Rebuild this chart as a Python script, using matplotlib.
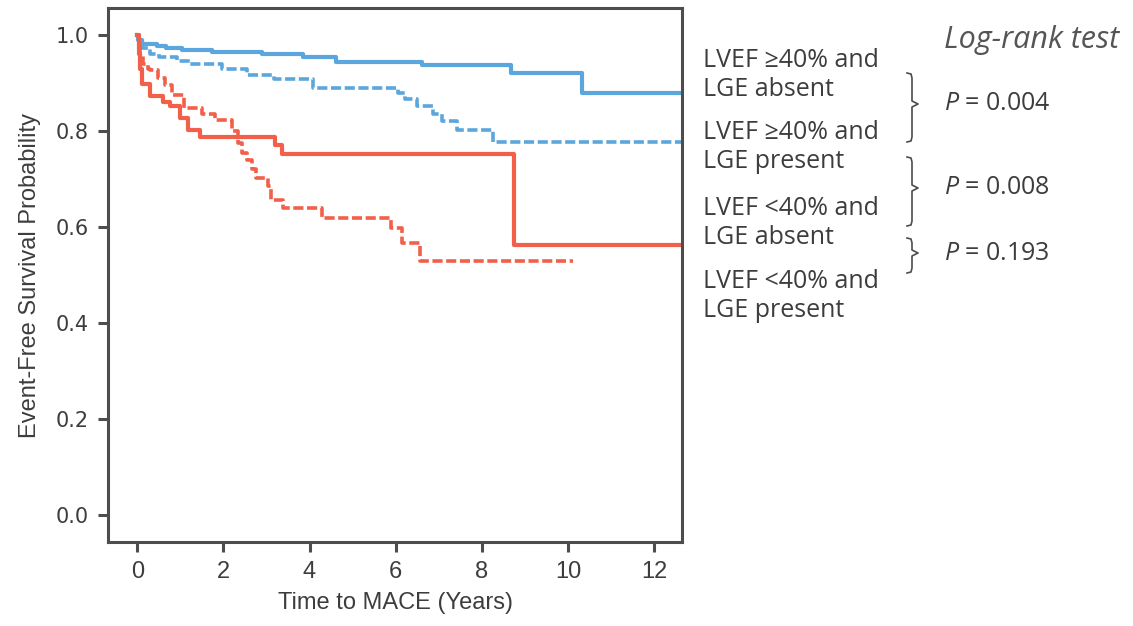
import numpy as np
import matplotlib
matplotlib.use('Agg')
import matplotlib.pyplot as plt

# step times (years) and survival values
t_pres_absent = [0, 0.02, 0.11, 0.34, 0.46, 0.67, 1.04, 1.73, 2.89, 3.85, 4.62, 6.61, 8.69, 10.32, 12.65]
s_pres_absent = [1.0, 0.99, 0.982, 0.98, 0.977, 0.973, 0.969, 0.965, 0.96, 0.954, 0.944, 0.9375, 0.92, 0.88, 0.88]

t_pres_present = [0, 0.05, 0.11, 0.30, 0.51, 0.93, 1.23, 1.97, 2.55, 3.18, 4.08, 6.06, 6.22, 6.50, 6.87,
                  7.08, 7.42, 8.26, 12.65]
s_pres_present = [1.0, 0.98, 0.972, 0.961, 0.955, 0.946, 0.94, 0.929, 0.917, 0.908, 0.89, 0.88, 0.866, 0.851,
                  0.835, 0.821, 0.801, 0.777, 0.777]

t_red_absent = [0, 0.04, 0.07, 0.10, 0.30, 0.60, 0.77, 1.00, 1.18, 1.46, 3.20, 3.36, 8.76, 12.65]
s_red_absent = [1.0, 0.96, 0.93, 0.897, 0.873, 0.861, 0.851, 0.826, 0.802, 0.787, 0.771, 0.751, 0.5625, 0.5625]

t_red_present = [0, 0.03, 0.06, 0.14, 0.26, 0.30, 0.49, 0.65, 0.81, 1.09, 1.51, 1.81, 2.20, 2.34, 2.44,
                 2.55, 2.67, 2.76, 3.04, 3.11, 3.39, 4.29, 5.89, 6.15, 6.57, 10.12]
s_red_present = [1.0, 0.98, 0.96, 0.94, 0.93, 0.927, 0.91, 0.895, 0.875, 0.848, 0.836, 0.823, 0.80, 0.775, 0.755,
                 0.74, 0.72, 0.702, 0.685, 0.656, 0.639, 0.619, 0.597, 0.566, 0.53, 0.53]

group_labels = ['LVEF \u226540% and\nLGE absent', 'LVEF \u226540% and\nLGE present',
                'LVEF <40% and\nLGE absent', 'LVEF <40% and\nLGE present']
p_values = ['0.004', '0.008', '0.193']

x_ticks = [0, 2, 4, 6, 8, 10, 12]
y_ticks = [0.0, 0.2, 0.4, 0.6, 0.8, 1.0]

BLUE = '#5ba6dc'
RED = '#f2604a'
GREY = '#4d4d4d'
TXT = '#3d3d3d'

HUMAN = ['Open Sans', 'DejaVu Sans']
NARROW = ['Liberation Sans', 'DejaVu Sans']

plt.rcParams['mathtext.fontset'] = 'custom'
plt.rcParams['mathtext.it'] = 'Open Sans:italic'
plt.rcParams['mathtext.rm'] = 'Open Sans'


def brace(ax, x, y0, y1, ym):
    # right-facing curly brace drawn in pixel coords
    ax.plot([x - 5, x - 1, x, x, x + 6, x, x, x - 1, x - 5],
            [y0, y0 + 1, y0 + 5, ym - 3, ym, ym + 3, y1 - 5, y1 - 1, y1],
            color=GREY, lw=1.2)


def main():
    fig = plt.figure(figsize=(11.33, 6.26), dpi=100)
    ax = fig.add_axes([108 / 1133, 84 / 626, 574 / 1133, 534 / 626])

    dash = (0, (2.8, 1.0))
    ax.step(t_pres_absent, s_pres_absent, where='post', color=BLUE, lw=3.0)
    ax.step(t_pres_present, s_pres_present, where='post', color=BLUE, lw=2.6, linestyle=dash)
    ax.step(t_red_absent, s_red_absent, where='post', color=RED, lw=3.0)
    ax.step(t_red_present, s_red_present, where='post', color=RED, lw=2.6, linestyle=dash)

    ax.set_xlim(-0.68, 12.65)
    ax.set_ylim(-0.056, 1.056)
    ax.set_xticks(x_ticks)
    ax.set_yticks(y_ticks)
    ax.set_yticklabels(['%.1f' % v for v in y_ticks], family=['DejaVu Sans'], fontsize=15, color=TXT)
    ax.set_xticklabels([str(v) for v in x_ticks], family=NARROW, fontsize=17, color=TXT)
    ax.tick_params(direction='out', length=7, width=2.2, color=GREY, pad=7)
    for sp in ax.spines.values():
        sp.set_linewidth(2.2)
        sp.set_color(GREY)
    ax.set_xlabel('Time to MACE (Years)', family=NARROW, fontsize=17, color=TXT, labelpad=6)
    ax.set_ylabel('Event-Free Survival Probability', family=NARROW, fontsize=17, color=TXT, labelpad=10)

    # overlay in pixel coords for the annotations on the right
    ov = fig.add_axes([0, 0, 1, 1])
    ov.set_xlim(0, 1133)
    ov.set_ylim(626, 0)
    ov.axis('off')

    label_y = [75, 147, 223, 296]
    for lab, y in zip(group_labels, label_y):
        ov.text(703, y, lab, family=HUMAN, fontsize=18, color=TXT, va='center', ha='left', linespacing=1.2)

    ov.text(944, 40, 'Log-rank test', family=HUMAN, fontsize=22, style='italic', color='#555555',
            va='center', ha='left')

    brace_spans = [(73, 142, 104), (157, 226, 188), (238, 273, 253)]
    for (y0, y1, ym), p in zip(brace_spans, p_values):
        brace(ov, 912, y0, y1, ym)
        ov.text(944, ym, '$P$ = ' + p, family=HUMAN, fontsize=18, color=TXT, va='center', ha='left')

    fig.savefig('out.png', dpi=100)


if __name__ == '__main__':
    main()
